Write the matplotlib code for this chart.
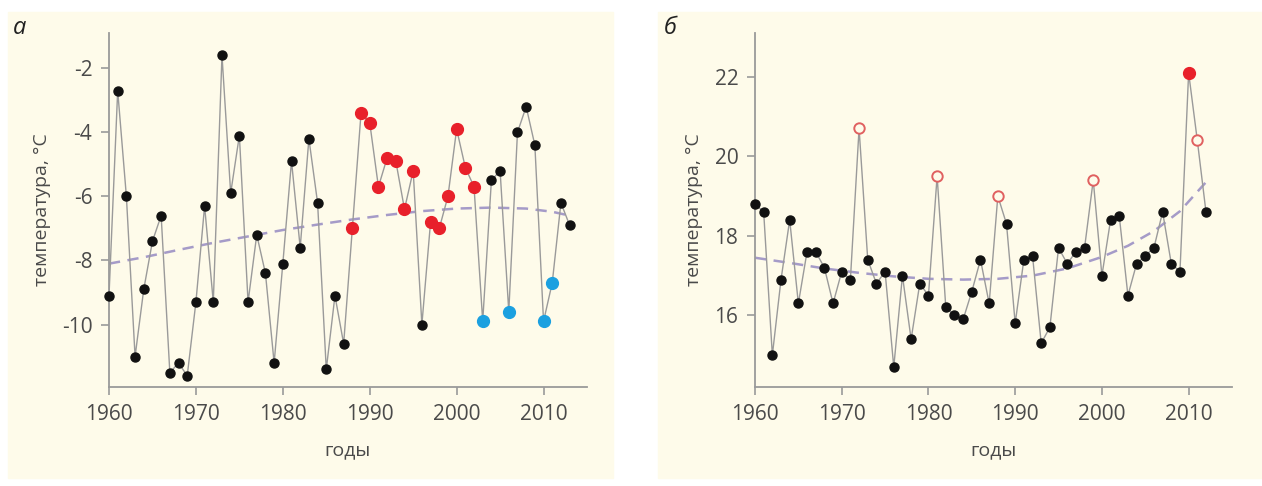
import matplotlib
matplotlib.use("Agg")
import matplotlib.pyplot as plt
from matplotlib.patches import Rectangle

plt.rcParams['font.family'] = ['Open Sans', 'DejaVu Sans']
plt.rcParams['axes.unicode_minus'] = False

# panel а: winter temperature
years_a = list(range(1960, 2014))
temp_a = [-9.1, -2.7, -6.0, -11.0, -8.9, -7.4, -6.6, -11.5, -11.2, -11.6,
          -9.3, -6.3, -9.3, -1.6, -5.9, -4.1, -9.3, -7.2, -8.4, -11.2,
          -8.1, -4.9, -7.6, -4.2, -6.2, -11.4, -9.1, -10.6, -7.0, -3.4,
          -3.7, -5.7, -4.8, -4.9, -6.4, -5.2, -10.0, -6.8, -7.0, -6.0,
          -3.9, -5.1, -5.7, -9.9, -5.5, -5.2, -9.6, -4.0, -3.2, -4.4,
          -9.9, -8.7, -6.2, -6.9]
red_years_a = [1988, 1989, 1990, 1991, 1992, 1993, 1994, 1995, 1997, 1998,
               1999, 2000, 2001, 2002]
blue_years_a = [2003, 2006, 2010, 2011]
trend_years_a = [1960, 1964, 1968, 1972, 1976, 1980, 1984, 1988, 1992, 1996,
                 2000, 2004, 2008, 2011, 2013]
trend_a = [-8.1, -7.9, -7.67, -7.45, -7.25, -7.05, -6.88, -6.72, -6.58, -6.46,
           -6.38, -6.35, -6.38, -6.48, -6.6]

# panel б: summer temperature
years_b = list(range(1960, 2013))
temp_b = [18.8, 18.6, 15.0, 16.9, 18.4, 16.3, 17.6, 17.6, 17.2, 16.3,
          17.1, 16.9, 20.7, 17.4, 16.8, 17.1, 14.7, 17.0, 15.4, 16.8,
          16.5, 19.5, 16.2, 16.0, 15.9, 16.6, 17.4, 16.3, 19.0, 18.3,
          15.8, 17.4, 17.5, 15.3, 15.7, 17.7, 17.3, 17.6, 17.7, 19.4,
          17.0, 18.4, 18.5, 16.5, 17.3, 17.5, 17.7, 18.6, 17.3, 17.1,
          22.1, 20.4, 18.6]
open_years_b = [1972, 1981, 1988, 1999, 2011]
red_years_b = [2010]
trend_years_b = [1960, 1964, 1968, 1972, 1976, 1980, 1984, 1988, 1992, 1996,
                 2000, 2003, 2006, 2009, 2012]
trend_b = [17.45, 17.32, 17.18, 17.07, 16.98, 16.92, 16.9, 16.92, 17.0, 17.18,
           17.47, 17.75, 18.12, 18.62, 19.35]

cream = '#fefbea'
grey = '#9a9a9a'
text_c = '#4a4a4a'

fig = plt.figure(figsize=(12.62, 4.86), dpi=100)
W, H = 1262, 486
for x0, x1 in [(8, 613), (658, 1262)]:
    fig.patches.append(Rectangle((x0 / W, 1 - 478 / H), (x1 - x0) / W, (478 - 12) / H,
                                 transform=fig.transFigure, color=cream, zorder=-5))

ax_a = fig.add_axes([109 / W, 1 - 387 / H, (587 - 109) / W, (387 - 33) / H])
ax_b = fig.add_axes([755 / W, 1 - 387 / H, (1232 - 755) / W, (387 - 33) / H])


def style(ax):
    ax.set_facecolor('none')
    for s in ['top', 'right']:
        ax.spines[s].set_visible(False)
    for s in ['left', 'bottom']:
        ax.spines[s].set_color(grey)
        ax.spines[s].set_linewidth(1.3)
    ax.tick_params(colors=grey, labelcolor=text_c, labelsize=15, length=6, width=1.2, pad=6)
    ax.set_xlim(1960, 2015)
    ax.set_xticks([1960, 1970, 1980, 1990, 2000, 2010])
    ax.set_xlabel('годы', fontsize=14, color=text_c, labelpad=12)
    ax.set_ylabel('температура, °C', fontsize=14, color=text_c, labelpad=8)


# panel а
style(ax_a)
ax_a.plot(years_a, temp_a, color=grey, lw=1, zorder=2)
ax_a.plot(trend_years_a, trend_a, color='#a59bc8', lw=1.8, ls=(0, (4.5, 3)), zorder=1)
for y, t in zip(years_a, temp_a):
    if y in red_years_a:
        ax_a.plot(y, t, 'o', ms=8.5, color='#e8202a', zorder=3, clip_on=False)
    elif y in blue_years_a:
        ax_a.plot(y, t, 'o', ms=8.5, color='#1ba0e0', zorder=3, clip_on=False)
    else:
        ax_a.plot(y, t, 'o', ms=6.5, color='#111111', zorder=3, clip_on=False)
ax_a.set_ylim(-11.95, -0.9)
ax_a.set_yticks([-10, -8, -6, -4, -2])
fig.text(20 / W, 1 - 28 / H, 'а', fontsize=17, style='italic', color='#222222',
         va='center', ha='center')

# panel б
style(ax_b)
ax_b.plot(years_b, temp_b, color=grey, lw=1, zorder=2)
ax_b.plot(trend_years_b, trend_b, color='#a59bc8', lw=1.8, ls=(0, (4.5, 3)), zorder=1)
for y, t in zip(years_b, temp_b):
    if y in red_years_b:
        ax_b.plot(y, t, 'o', ms=8.5, color='#e8202a', zorder=3, clip_on=False)
    elif y in open_years_b:
        ax_b.plot(y, t, 'o', ms=7.5, mfc=cream, mec='#e06060', mew=1.4, zorder=3,
                  clip_on=False)
    else:
        ax_b.plot(y, t, 'o', ms=6.5, color='#111111', zorder=3, clip_on=False)
ax_b.set_ylim(14.2, 23.1)
ax_b.set_yticks([16, 18, 20, 22])
fig.text(670 / W, 1 - 28 / H, 'б', fontsize=17, style='italic', color='#222222',
         va='center', ha='center')

fig.savefig('out.png', dpi=100, facecolor='white')
